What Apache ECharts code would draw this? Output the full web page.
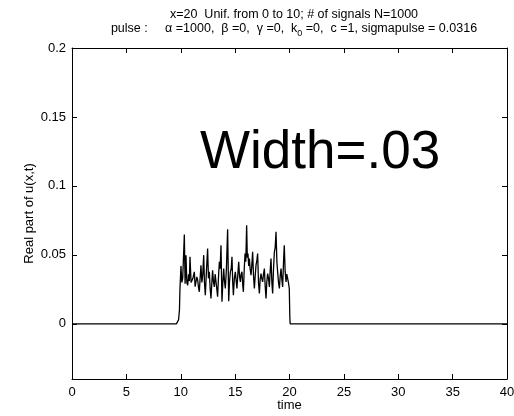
<!DOCTYPE html>
<html>
<head>
<meta charset="utf-8">
<script src="https://cdn.jsdelivr.net/npm/echarts@6/dist/echarts.min.js"></script>
<style>html,body{margin:0;padding:0;background:#fff}#c{width:514px;height:416px}</style>
</head>
<body>
<div id="c"></div>
<script>
const timeValues = [0, 9.6, 9.72, 9.8, 9.88,
  9.93, 10.02, 10.10, 10.18, 10.33, 10.40, 10.48, 10.56, 10.64, 10.72, 10.79, 10.85, 10.95,
  11.03, 11.12, 11.25, 11.32, 11.40, 11.48, 11.56, 11.64, 11.71, 11.78, 11.86, 11.94,
  12.02, 12.11, 12.18, 12.26, 12.36, 12.47, 12.55, 12.63, 12.70, 12.78, 12.86, 12.93,
  13.01, 13.09, 13.16, 13.24, 13.32, 13.39, 13.47, 13.55, 13.62, 13.70, 13.79, 13.87, 13.95,
  14.02, 14.10, 14.20, 14.31, 14.41, 14.48, 14.56, 14.64, 14.71, 14.78, 14.84, 14.93,
  15.02, 15.10, 15.17, 15.25, 15.33, 15.40, 15.48, 15.55, 15.63, 15.70, 15.76, 15.84, 15.91, 15.98,
  16.06, 16.12, 16.18, 16.25, 16.31, 16.38, 16.46, 16.53, 16.61, 16.69, 16.77, 16.84, 16.92,
  17.00, 17.07, 17.15, 17.23, 17.30, 17.38, 17.45, 17.53, 17.61, 17.69, 17.76, 17.84, 17.91, 17.99,
  18.07, 18.15, 18.22, 18.30, 18.38, 18.45, 18.53, 18.61, 18.68, 18.76, 18.84, 18.91, 18.99,
  19.07, 19.14, 19.22, 19.30, 19.37, 19.45, 19.52, 19.60, 19.68, 19.75, 19.83, 19.90, 19.98,
  20.03, 20.06, 40];
const signalValues = [0, 0, 0.001, 0.003, 0.010,
  0.026, 0.042, 0.030, 0.033, 0.0647, 0.029, 0.0498, 0.030, 0.028, 0.036, 0.031, 0.0486, 0.030,
  0.0292, 0.033, 0.0377, 0.027, 0.0268, 0.034, 0.0316, 0.026, 0.0232, 0.033, 0.0425, 0.030,
  0.0353, 0.0498, 0.030, 0.0208, 0.038, 0.0546, 0.033, 0.0377, 0.026, 0.0184, 0.030, 0.0389,
  0.030, 0.0268, 0.036, 0.0353, 0.025, 0.0196, 0.034, 0.0449, 0.040, 0.0570, 0.0160, 0.030, 0.0401,
  0.031, 0.0256, 0.040, 0.0686, 0.0164, 0.030, 0.0377, 0.040, 0.0486, 0.030, 0.0208, 0.033,
  0.0377, 0.031, 0.0256, 0.036, 0.0449, 0.035, 0.0304, 0.036, 0.0377, 0.028, 0.0232, 0.040, 0.0510, 0.045,
  0.0715, 0.048, 0.0510, 0.042, 0.0473, 0.040, 0.0353, 0.042, 0.0522, 0.035, 0.0256, 0.034, 0.0425,
  0.046, 0.0510, 0.030, 0.0220, 0.032, 0.0365, 0.033, 0.0304, 0.036, 0.0401, 0.028, 0.0184, 0.030, 0.0365,
  0.033, 0.0268, 0.038, 0.0473, 0.030, 0.0220, 0.040, 0.0522, 0.055, 0.0667, 0.045, 0.0377, 0.030,
  0.0256, 0.034, 0.0401, 0.032, 0.0268, 0.045, 0.0570, 0.038, 0.0304, 0.036, 0.0365, 0.030, 0.0256,
  0.005, 0, 0];
const yTickValues = [0, 0.05, 0.1, 0.15, 0.2];
const titleLine1 = 'x=20  Unif. from 0 to 10; # of signals N=1000';

const font = 'Liberation Sans, Arial, sans-serif';
const chart = echarts.init(document.getElementById('c'));
const seriesData = timeValues.map((t, i) => [t, signalValues[i]]);
const tickStyle = {show: true, inside: true, length: 5, lineStyle: {color: '#000', width: 1}};
chart.setOption({
  backgroundColor: '#fff',
  animation: false,
  title: [{
    text: titleLine1,
    left: 289, top: 3, textAlign: 'center',
    textStyle: {fontFamily: font, fontSize: 12.5, fontWeight: 'normal', color: '#000'}
  }, {
    text: '{a|pulse :     α =1000,  β =0,  γ =0,  k}{s|0}{a| =0,  c =1, sigmapulse = 0.0316}',
    left: 289, top: 17, textAlign: 'center',
    textStyle: {
      fontFamily: font, fontSize: 12.5, fontWeight: 'normal', color: '#000',
      rich: {
        a: {fontFamily: font, fontSize: 12.5, color: '#000', lineHeight: 16, verticalAlign: 'top', padding: [0, 0, 0, 0]},
        s: {fontFamily: font, fontSize: 9, color: '#000', lineHeight: 16, verticalAlign: 'top', padding: [7, 0, 0, 0]}
      }
    }
  }],
  grid: {left: 72, right: 7, top: 48, bottom: 37, containLabel: false, outerBoundsMode: 'none'},
  xAxis: [{
    type: 'value', min: 0, max: 40, interval: 5, position: 'bottom',
    name: 'time', nameLocation: 'middle', nameGap: 20, nameMoveOverlap: false,
    nameTextStyle: {fontFamily: font, fontSize: 13, color: '#000'},
    axisLine: {show: true, onZero: false, lineStyle: {color: '#000', width: 1}},
    axisTick: tickStyle,
    axisLabel: {fontFamily: font, fontSize: 13, color: '#000', margin: 7},
    splitLine: {show: false}
  }, {
    type: 'value', min: 0, max: 40, interval: 5, position: 'top',
    axisLine: {show: true, onZero: false, lineStyle: {color: '#000', width: 1}},
    axisTick: tickStyle, axisLabel: {show: false}, splitLine: {show: false}
  }],
  yAxis: [{
    type: 'value', min: -0.04, max: 0.2, position: 'left',
    name: 'Real part of u(x,t)', nameLocation: 'middle', nameGap: 36, nameMoveOverlap: false,
    nameTextStyle: {fontFamily: font, fontSize: 13, color: '#000'},
    axisLine: {show: true, onZero: false, lineStyle: {color: '#000', width: 1}},
    axisTick: Object.assign({customValues: yTickValues}, tickStyle),
    axisLabel: {fontFamily: font, fontSize: 13, color: '#000', margin: 6, customValues: yTickValues},
    splitLine: {show: false}
  }, {
    type: 'value', min: -0.04, max: 0.2, position: 'right',
    axisLine: {show: true, onZero: false, lineStyle: {color: '#000', width: 1}},
    axisTick: Object.assign({customValues: yTickValues}, tickStyle),
    axisLabel: {show: false, customValues: yTickValues}, splitLine: {show: false}
  }],
  graphic: [{
    type: 'text', left: 200, top: 127,
    style: {text: 'Width=.03', fontFamily: font, fontSize: 53, fill: '#000'}
  }],
  series: [{
    type: 'line', data: seriesData, xAxisIndex: 0, yAxisIndex: 0,
    showSymbol: false, symbol: 'none',
    lineStyle: {color: '#000', width: 1.3}
  }]
});
</script>
</body>
</html>
